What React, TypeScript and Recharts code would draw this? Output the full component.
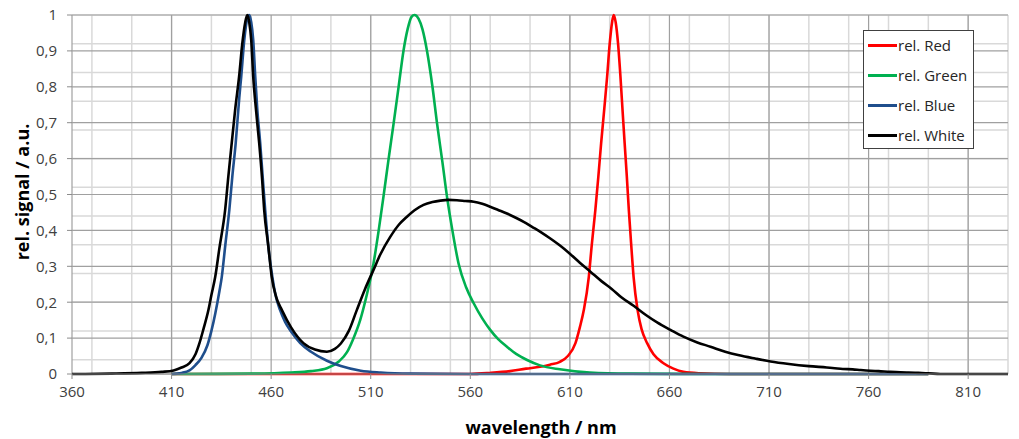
import React from "react";
import {
  CartesianGrid,
  Line,
  LineChart,
  XAxis,
  YAxis,
} from "recharts";

// wavelength / nm and relative signal
const redWl = [410, 560, 570, 580, 588, 595, 600, 605, 609, 612.8, 615, 617, 619.5, 621, 622.8, 624.3, 625.7, 627.3, 628.7, 630, 631.2, 632, 633, 634.2, 635.4, 636.5, 637.5, 638.6, 639.6, 640.8, 642, 644, 646, 648.8, 652, 657, 662, 667, 675, 690, 790];
const redVal = [0, 0, 0.003, 0.008, 0.015, 0.02, 0.026, 0.034, 0.05, 0.086, 0.13, 0.178, 0.27, 0.36, 0.457, 0.55, 0.643, 0.74, 0.828, 0.92, 0.98, 1.0, 0.98, 0.92, 0.828, 0.73, 0.643, 0.55, 0.457, 0.36, 0.27, 0.178, 0.125, 0.086, 0.055, 0.03, 0.015, 0.006, 0.002, 0, 0];

const greenWl = [410, 450, 470, 480, 488, 494, 498, 501, 504.7, 508, 511.4, 514, 516.4, 519, 521.5, 524, 526.5, 528.5, 530.5, 532, 534, 536, 538.2, 541, 543.3, 546, 548.3, 551, 554.1, 558, 561.7, 566, 570, 574, 578.4, 583, 588.5, 595, 605, 620, 640, 680, 790];
const greenVal = [0, 0.001, 0.004, 0.008, 0.016, 0.035, 0.06, 0.095, 0.15, 0.22, 0.308, 0.4, 0.494, 0.6, 0.698, 0.8, 0.902, 0.96, 0.995, 1.0, 0.99, 0.96, 0.902, 0.8, 0.698, 0.59, 0.494, 0.4, 0.308, 0.24, 0.197, 0.155, 0.123, 0.097, 0.076, 0.056, 0.039, 0.024, 0.013, 0.004, 0.001, 0, 0];

const blueWl = [410, 415, 419, 422, 425, 428, 430, 432, 434, 435.2, 437, 439, 440.5, 442.2, 444, 445, 446.5, 448, 449, 450, 451, 452, 453, 454.5, 456, 457, 458.5, 460.6, 462, 464.5, 467, 470, 474.6, 480, 488, 495, 505, 515, 530, 560, 790];
const blueVal = [0, 0.003, 0.01, 0.025, 0.045, 0.08, 0.12, 0.17, 0.23, 0.27, 0.36, 0.457, 0.55, 0.643, 0.77, 0.83, 0.93, 0.99, 1.0, 0.98, 0.93, 0.83, 0.74, 0.643, 0.53, 0.457, 0.36, 0.27, 0.225, 0.178, 0.145, 0.118, 0.086, 0.062, 0.037, 0.022, 0.009, 0.004, 0.001, 0, 0];

const whiteWl = [360, 380, 395, 405, 411, 415, 419, 422, 424, 426, 428.5, 430, 431.9, 434, 436.9, 438.5, 440.2, 442, 443.9, 445.5, 447, 448, 449, 450, 451, 452.5, 454, 455.5, 456.5, 458.5, 460.3, 462.5, 465.4, 470, 476.2, 482, 488, 492, 495, 499, 503, 507, 511.4, 515, 519.8, 524, 528.2, 532, 536.5, 541, 545, 549, 553.3, 557.5, 561.7, 566, 570, 574, 578.4, 582.6, 586.8, 591, 595.2, 600, 605.2, 610, 615, 620.3, 626, 631, 636, 642, 648, 654, 660.5, 667, 674, 680.6, 688, 695, 703, 710.8, 720, 730, 739, 743, 747, 752, 756, 761, 765, 771, 776, 780, 785, 790, 796, 830];
const whiteVal = [0, 0.001, 0.003, 0.006, 0.01, 0.018, 0.03, 0.055, 0.086, 0.125, 0.178, 0.22, 0.27, 0.35, 0.457, 0.55, 0.643, 0.74, 0.828, 0.92, 0.98, 1.0, 0.98, 0.93, 0.828, 0.73, 0.643, 0.54, 0.457, 0.36, 0.27, 0.215, 0.178, 0.13, 0.086, 0.068, 0.062, 0.07, 0.085, 0.12, 0.178, 0.235, 0.29, 0.335, 0.382, 0.415, 0.438, 0.456, 0.471, 0.479, 0.483, 0.485, 0.484, 0.482, 0.48, 0.474, 0.466, 0.457, 0.447, 0.436, 0.424, 0.41, 0.396, 0.378, 0.357, 0.335, 0.31, 0.285, 0.258, 0.237, 0.213, 0.19, 0.165, 0.143, 0.123, 0.104, 0.088, 0.076, 0.062, 0.052, 0.043, 0.035, 0.028, 0.022, 0.018, 0.016, 0.014, 0.013, 0.011, 0.009, 0.008, 0.006, 0.005, 0.004, 0.003, 0.002, 0, 0];

const xTicks = [360, 410, 460, 510, 560, 610, 660, 710, 760, 810];
const yTicks = [0, 0.1, 0.2, 0.3, 0.4, 0.5, 0.6, 0.7, 0.8, 0.9, 1];

const zip = (wl: number[], vals: number[]) => wl.map((w, i) => ({ wl: w, v: vals[i] }));

const minorX: number[] = [];
for (let w = 360; w <= 830; w += 10) minorX.push(w);
const minorY: number[] = [];
for (let i = 0; i <= 50; i++) minorY.push(i / 50);

const series = [
  { name: "rel. Red", color: "#FF0000", data: zip(redWl, redVal) },
  { name: "rel. Green", color: "#00B050", data: zip(greenWl, greenVal) },
  { name: "rel. Blue", color: "#1F4E8C", data: zip(blueWl, blueVal) },
  { name: "rel. White", color: "#000000", data: zip(whiteWl, whiteVal) },
];

const font = "'Open Sans', 'Noto Sans', sans-serif";

function LegendBox() {
  return (
    <div
      style={{
        position: "absolute",
        left: 863,
        top: 30,
        width: 109,
        height: 117,
        border: "1px solid #404040",
        background: "#FFFFFF",
        fontFamily: font,
        fontSize: 15,
        color: "#262626",
      }}
    >
      {series.map((s, i) => (
        <div
          key={s.name}
          style={{ position: "absolute", left: 4, top: 4 + i * 30, display: "flex", alignItems: "center", height: 20 }}
        >
          <span style={{ display: "inline-block", width: 29, height: 3, background: s.color }} />
          <span style={{ marginLeft: 1, whiteSpace: "nowrap" }}>{s.name}</span>
        </div>
      ))}
    </div>
  );
}

export default function App() {
  return (
    <div style={{ position: "absolute", left: 0, top: 0, width: 1019, height: 439, background: "#FFFFFF" }}>
      <LineChart width={1019} height={439} margin={{ top: 15, right: 11, bottom: 0, left: 0 }}>
        <CartesianGrid stroke="#D9D9D9" strokeWidth={1.5} verticalValues={minorX} horizontalValues={minorY} />
        <CartesianGrid stroke="#A0A0A0" strokeWidth={1.2} verticalValues={xTicks} horizontalValues={yTicks} />
        <XAxis
          dataKey="wl"
          type="number"
          domain={[360, 830]}
          ticks={xTicks}
          allowDataOverflow
          height={65}
          tickSize={5}
          tickMargin={7}
          stroke="#8C8C8C"
          tick={{ fill: "#404040", fontSize: 15, fontFamily: font }}
          label={{
            content: () => (
              <text x={541} y={434} textAnchor="middle" fontFamily={font} fontWeight="bold" fontSize={18} fill="#000">
                wavelength / nm
              </text>
            ),
          }}
        />
        <YAxis
          type="number"
          domain={[0, 1]}
          ticks={yTicks}
          width={72}
          tickSize={5}
          tickMargin={10}
          axisLine={false}
          stroke="#8C8C8C"
          tickFormatter={(v: number) => String(v).replace(".", ",")}
          tick={{ fill: "#404040", fontSize: 15, fontFamily: font }}
          label={{
            content: () => (
              <text
                x={29}
                y={192}
                transform="rotate(-90 29 192)"
                textAnchor="middle"
                fontFamily={font}
                fontWeight="bold"
                fontSize={18}
                fill="#000"
              >
                rel. signal / a.u.
              </text>
            ),
          }}
        />
        {series.map((s) => (
          <Line
            key={s.name}
            data={s.data}
            dataKey="v"
            name={s.name}
            type="monotone"
            stroke={s.color}
            strokeWidth={2.6}
            dot={false}
            activeDot={false}
            isAnimationActive={false}
          />
        ))}
      </LineChart>
      <LegendBox />
    </div>
  );
}
